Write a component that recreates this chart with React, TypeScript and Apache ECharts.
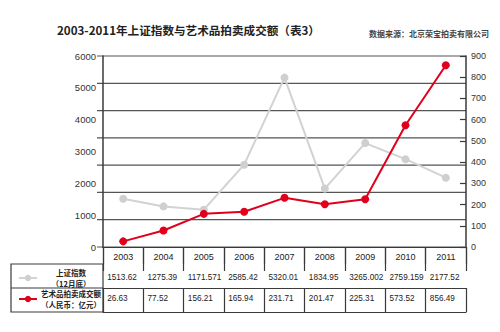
import React, { useEffect, useRef } from "react";
import * as echarts from "echarts";

const years = ["2003", "2004", "2005", "2006", "2007", "2008", "2009", "2010", "2011"];
const shIndex = [1513.62, 1275.39, 1171.571, 2585.42, 5320.01, 1834.95, 3265.002, 2759.159, 2177.52];
const artSales = [26.63, 77.52, 156.21, 165.94, 231.71, 201.47, 225.31, 573.52, 856.49];
const shLabel = "上证指数";
const artLabel = "艺术品拍卖成交额";
const shSub = "（12月底）";
const artSub = "（人民币：亿元）";
const titleText = "2003-2011年上证指数与艺术品拍卖成交额（表3）";
const sourceText = "数据来源：北京荣宝拍卖有限公司";
// the picture's ruled lines split the left scale (0-6000) into 7 equal bands
const ruleSteps = [0, 1, 2, 3, 4, 5, 6, 7];
const gridBands = 7;
const leftMax = 6000;

const FONT = "'Liberation Sans', Arial, sans-serif";
const CJK = "'Noto Sans CJK SC', sans-serif";
const LINE = "#3a3a3a";
const PLOT_LEFT = 103;
const PLOT_RIGHT = 466;

export default function App() {
  const ref = useRef<HTMLDivElement>(null);
  useEffect(() => {
    const chart = echarts.init(ref.current!, null, { renderer: "svg" });
    const rowAxis = (data: string[], offset: number, margin: number) => ({
      type: "category",
      gridIndex: 0,
      position: "bottom",
      offset,
      data,
      boundaryGap: true,
      axisLine: { show: true, lineStyle: { color: LINE, width: 1.2 } },
      axisTick: { show: true, length: 24, alignWithLabel: false, lineStyle: { color: LINE, width: 1.2 } },
      axisLabel: {
        interval: 0,
        margin,
        formatter: (v: string) => "{v|" + v + "}",
        rich: { v: { width: 32, align: "left", fontSize: 8.2, fontFamily: FONT, color: "#222" } },
      },
      splitLine: { show: false },
    });
    const option: any = {
      animation: false,
      title: [
        {
          text: titleText,
          left: 57,
          top: 24,
          padding: 0,
          textStyle: { fontSize: 11.6, fontWeight: "bold", color: "#222", fontFamily: CJK },
        },
        {
          text: sourceText,
          left: 369,
          top: 29,
          padding: 0,
          textStyle: { fontSize: 8, fontWeight: "bold", color: "#444", fontFamily: CJK },
        },
      ],
      legend: {
        orient: "vertical",
        left: 18,
        top: 269,
        padding: 0,
        itemWidth: 18,
        itemHeight: 8,
        itemGap: 3,
        selectedMode: false,
        data: [shLabel, artLabel],
        formatter: (name: string) =>
          name === shLabel ? "{t|" + shLabel + "}\n{t|" + shSub + "}" : "{t|" + artLabel + "}\n{t|" + artSub + "}",
        textStyle: {
          rich: {
            t: { width: 58, align: "center", fontSize: 7.5, fontWeight: "bold", lineHeight: 10.5, color: "#222", fontFamily: CJK },
          },
        },
      },
      grid: { left: PLOT_LEFT, right: 500 - PLOT_RIGHT, top: 56, bottom: 85 },
      xAxis: [
        {
          type: "category",
          gridIndex: 0,
          data: years,
          boundaryGap: true,
          axisLine: { show: true, lineStyle: { color: LINE, width: 1.2 } },
          axisTick: { show: true, length: 17, alignWithLabel: false, lineStyle: { color: LINE, width: 1.2 } },
          axisLabel: { interval: 0, margin: 5, fontSize: 9, fontFamily: FONT, color: "#222" },
          splitLine: { show: false },
          z: 5,
        },
        rowAxis(shIndex.map(String), 17, 9),
        rowAxis(artSales.map(String), 41, 6),
        {
          type: "category",
          gridIndex: 0,
          position: "bottom",
          offset: 65,
          data: years,
          axisLine: { show: true, lineStyle: { color: LINE, width: 1.2 } },
          axisTick: { show: false },
          axisLabel: { show: false },
        },
      ],
      yAxis: [
        {
          type: "value",
          gridIndex: 0,
          min: 0,
          max: leftMax,
          interval: 1000,
          position: "left",
          axisLine: { show: true, lineStyle: { color: LINE, width: 1.5 } },
          axisTick: { show: false },
          axisLabel: { margin: 7, fontSize: 9.5, fontFamily: FONT, color: "#333", formatter: (v: number) => String(v) },
          splitLine: { show: false },
          z: 5,
        },
        {
          type: "value",
          gridIndex: 0,
          min: 0,
          max: 900,
          interval: 100,
          position: "right",
          axisLine: { show: true, lineStyle: { color: LINE, width: 1.5 } },
          axisTick: { show: true, inside: true, length: 6, lineStyle: { color: LINE, width: 1.2 } },
          axisLabel: { margin: 5, fontSize: 9, fontFamily: FONT, color: "#333", formatter: (v: number) => String(v) },
          splitLine: { show: false },
          z: 5,
        },
      ],
      graphic: [
        {
          type: "rect",
          shape: { x: 11, y: 264, width: 92, height: 48 },
          style: { fill: "none", stroke: LINE, lineWidth: 1.2 },
          silent: true,
        },
        {
          type: "line",
          shape: { x1: 11, y1: 288, x2: 103, y2: 288 },
          style: { stroke: LINE, lineWidth: 1.2 },
          silent: true,
        },
      ],
      series: [
        {
          name: "rules",
          type: "custom",
          xAxisIndex: 0,
          yAxisIndex: 0,
          silent: true,
          z: 3,
          clip: false,
          data: ruleSteps.map((k) => [0, (leftMax * k) / gridBands]),
          renderItem: (params: any, api: any) => {
            const cs = params.coordSys;
            const y = api.coord([0, api.value(1)])[1];
            return {
              type: "line",
              shape: { x1: cs.x - 6, y1: y, x2: cs.x + cs.width, y2: y },
              style: { stroke: "#555", lineWidth: 1.2 },
            };
          },
        },
        {
          name: shLabel,
          type: "line",
          xAxisIndex: 0,
          yAxisIndex: 0,
          data: shIndex,
          symbol: "circle",
          symbolSize: 8,
          lineStyle: { color: "#d2d2d2", width: 2 },
          itemStyle: { color: "#cfcfcf" },
          z: 3,
        },
        {
          name: artLabel,
          type: "line",
          xAxisIndex: 0,
          yAxisIndex: 1,
          data: artSales,
          symbol: "circle",
          symbolSize: 8,
          lineStyle: { color: "#e1001b", width: 2 },
          itemStyle: { color: "#e1001b" },
          z: 4,
        },
      ],
    };
    chart.setOption(option);
    return () => chart.dispose();
  }, []);
  return <div ref={ref} style={{ width: 500, height: 332, position: "absolute", left: 0, top: 0, background: "#fff" }} />;
}
